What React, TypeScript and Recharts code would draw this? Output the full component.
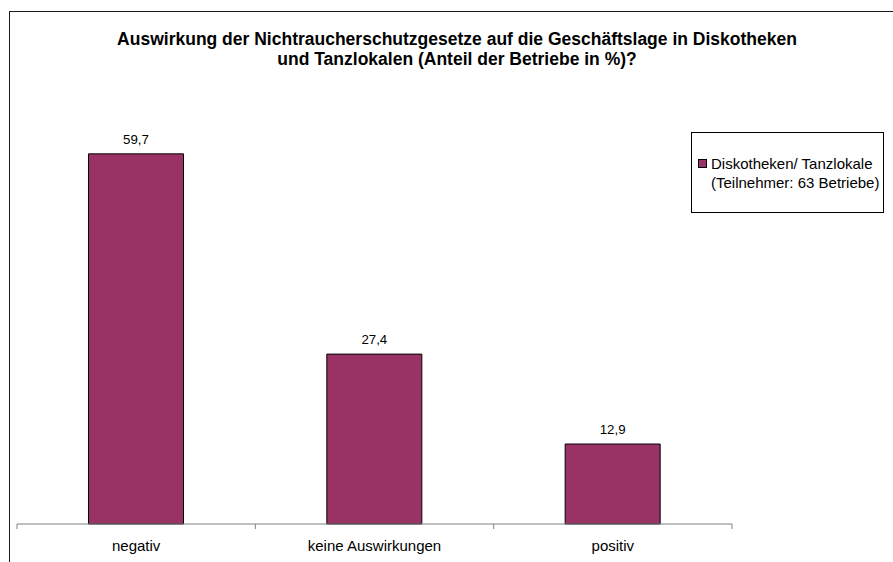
// Bar chart: impact of smoking-ban laws on business in discos / dance venues
import { BarChart, Bar, XAxis, YAxis, LabelList, Legend } from 'recharts';

const categories = ['negativ', 'keine Auswirkungen', 'positiv'];
const shares = [59.7, 27.4, 12.9];
const seriesName = 'Diskotheken/ Tanzlokale (Teilnehmer: 63 Betriebe)';
const titleLines = [
  'Auswirkung der Nichtraucherschutzgesetze auf die Geschäftslage in Diskotheken',
  'und Tanzlokalen (Anteil der Betriebe in %)?',
];

const data = categories.map((name, i) => ({ name, value: shares[i] }));

const W = 893;
const H = 562;
const margin = { top: 90, right: 161, bottom: 0, left: 17 };
const AXIS_H = 38;
const FONT = '"Liberation Sans", Arial, Helvetica, sans-serif';
const BAR_FILL = '#993366';
const AXIS_GREY = '#808080';

const formatValue = (v: any) => String(v).replace('.', ',');

// Label under each bar plus Excel-style tick marks between categories
function CategoryTick(props: any) {
  const { x, y, payload, index, visibleTicksCount } = props;
  const count = visibleTicksCount || categories.length;
  const half = (W - margin.left - margin.right) / count / 2;
  return (
    <g>
      <line x1={x - half} y1={y} x2={x - half} y2={y + 5} stroke={AXIS_GREY} />
      {index === count - 1 && <line x1={x + half} y1={y} x2={x + half} y2={y + 5} stroke={AXIS_GREY} />}
      <text x={x} y={y} dy={26.5} textAnchor="middle" fontSize={15} fontFamily={FONT} fill="#000">
        {payload.value}
      </text>
    </g>
  );
}

function LegendBox({ payload }: any) {
  const item = payload?.[0];
  if (!item) return null;
  const lines = String(item.value).split(/ (?=\()/);
  return (
    <div
      style={{
        boxSizing: 'border-box',
        width: 193,
        height: 81,
        border: '1px solid #000',
        background: '#fff',
        display: 'flex',
        alignItems: 'center',
        paddingLeft: 6,
        fontFamily: FONT,
        fontSize: 15,
        lineHeight: '19px',
        color: '#000',
      }}
    >
      <div style={{ display: 'flex', alignItems: 'flex-start' }}>
        <div
          style={{
            boxSizing: 'border-box',
            width: 9,
            height: 9,
            marginTop: 5,
            marginRight: 4,
            border: '1px solid #000',
            background: item.color || BAR_FILL,
            flexShrink: 0,
          }}
        />
        <div>
          {lines.map((l) => (
            <div key={l} style={{ whiteSpace: 'nowrap' }}>{l}</div>
          ))}
        </div>
      </div>
    </div>
  );
}

export default function App() {
  return (
    <div style={{ position: 'relative', width: W, height: H, overflow: 'hidden', background: '#fff' }}>
      <style>{'body{margin:0;overflow:hidden}'}</style>
      <div
        style={{
          position: 'absolute',
          left: 9,
          top: 11,
          width: W,
          height: H,
          borderLeft: '1px solid #1a1a1a',
          borderTop: '1px solid #1a1a1a',
        }}
      />
      <div
        style={{
          position: 'absolute',
          left: 57,
          top: 29,
          width: 800,
          textAlign: 'center',
          fontFamily: FONT,
          fontWeight: 'bold',
          fontSize: 17.5,
          lineHeight: '20px',
          color: '#000',
          whiteSpace: 'nowrap',
        }}
      >
        {titleLines.map((t) => (
          <div key={t}>{t}</div>
        ))}
      </div>
      <BarChart width={W} height={H} data={data} margin={margin} barCategoryGap="30%">
        <XAxis
          dataKey="name"
          height={AXIS_H}
          interval={0}
          tickLine={false}
          tickSize={0}
          tickMargin={0}
          axisLine={{ stroke: AXIS_GREY }}
          tick={<CategoryTick />}
        />
        <YAxis hide domain={[0, 70]} />
        <Legend
          layout="horizontal"
          verticalAlign="middle"
          align="center"
          content={<LegendBox />}
          wrapperStyle={{ left: 691, top: 132, width: 193, height: 81 }}
        />
        <Bar dataKey="value" name={seriesName} fill={BAR_FILL} stroke="#000" strokeWidth={1} isAnimationActive={false}>
          <LabelList
            dataKey="value"
            position="top"
            offset={10}
            formatter={formatValue}
            style={{ fontSize: 13.3, fontFamily: FONT, fill: '#000' }}
          />
        </Bar>
      </BarChart>
    </div>
  );
}
